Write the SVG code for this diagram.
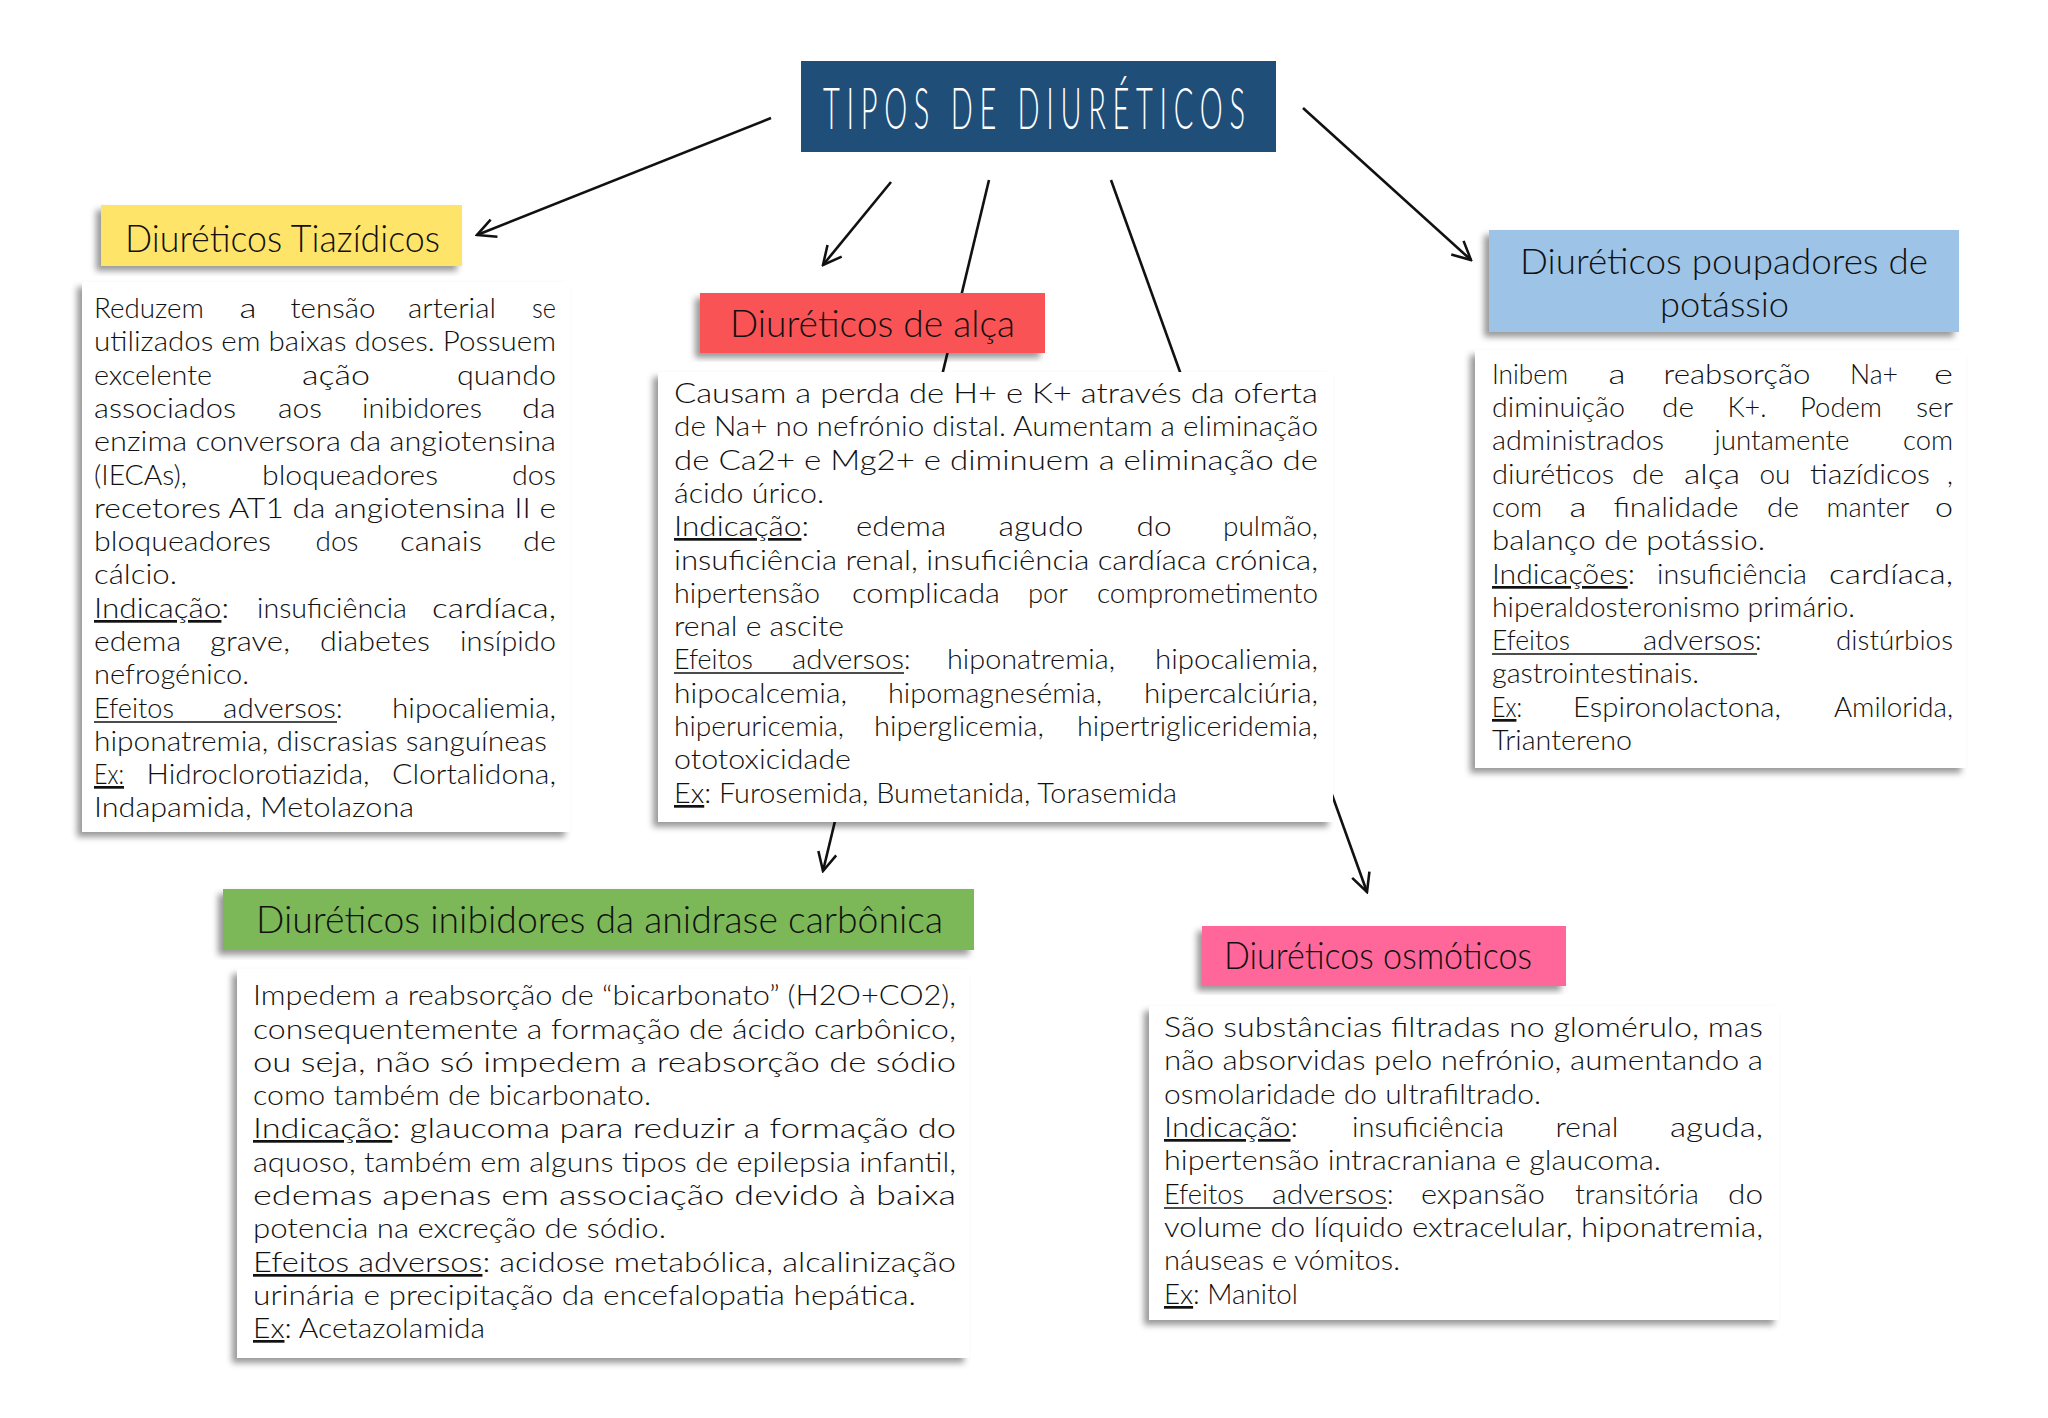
<svg xmlns="http://www.w3.org/2000/svg" width="2048" height="1418" viewBox="0 0 2048 1418">
<style>
.b{font-family:Lato,"Open Sans","DejaVu Sans",sans-serif;font-size:27px;font-weight:300;fill:#111}
.h{font-family:Lato,"Open Sans","DejaVu Sans",sans-serif;font-size:37px;font-weight:300;fill:#111}
.t{font-family:Lato,"Open Sans","DejaVu Sans",sans-serif;font-size:58px;font-weight:300;fill:#fff}
.u{text-decoration:underline}
.m{text-anchor:middle}
.e{text-anchor:end}
.box{fill:#fff;filter:url(#sh)}
.conn{stroke:#111;stroke-width:2.6;fill:none}
.ul{stroke:#111;stroke-width:1.6}
</style>
<defs>
<filter id="sh" x="-10%" y="-10%" width="120%" height="125%">
<feDropShadow dx="-5" dy="5" stdDeviation="3" flood-color="#000" flood-opacity="0.4"/>
</filter>
<marker id="ah" viewBox="0 0 12 12" refX="11" refY="6" markerWidth="22" markerHeight="22" markerUnits="userSpaceOnUse" orient="auto">
<path d="M1,1 L11,6 L1,11" fill="none" stroke="#111" stroke-width="1.4"/>
</marker>
</defs>
<rect width="2048" height="1418" fill="#fff"/>

<g id="connectors">
<line class="conn" x1="771" y1="118" x2="477" y2="235" marker-end="url(#ah)"/>
<line class="conn" x1="891" y1="182" x2="823" y2="265" marker-end="url(#ah)"/>
<line class="conn" x1="989" y1="180" x2="823" y2="871" marker-end="url(#ah)"/>
<line class="conn" x1="1111" y1="180" x2="1367" y2="892" marker-end="url(#ah)"/>
<line class="conn" x1="1303" y1="108" x2="1471" y2="260" marker-end="url(#ah)"/>
</g>

<g id="titulo">
<rect x="801" y="61" width="475" height="91" fill="#1f4e79"/>
<text class="t" transform="translate(823,129) scale(0.5,1)" x="0" y="0" textLength="844" lengthAdjust="spacing">TIPOS DE DIURÉTICOS</text>
</g>

<g id="tiazidicos">
<rect x="101" y="205" width="361" height="61" fill="#ffe46b" filter="url(#sh)"/>
<text class="h" x="125" y="252" textLength="315" lengthAdjust="spacingAndGlyphs">Diuréticos Tiazídicos</text>
<rect class="box" x="82" y="282" width="488" height="550"/>
<text class="b" y="318"><tspan x="94" textLength="110" lengthAdjust="spacingAndGlyphs">Reduzem</tspan><tspan class="m" x="248" textLength="17" lengthAdjust="spacingAndGlyphs">a</tspan><tspan class="m" x="333" textLength="85" lengthAdjust="spacingAndGlyphs">tensão</tspan><tspan class="m" x="452" textLength="88" lengthAdjust="spacingAndGlyphs">arterial</tspan><tspan class="e" x="556" textLength="24" lengthAdjust="spacingAndGlyphs">se</tspan></text>
<text class="b" x="94" y="351" textLength="462" lengthAdjust="spacingAndGlyphs">utilizados em baixas doses. Possuem</text>
<text class="b" y="385"><tspan x="94" textLength="118" lengthAdjust="spacingAndGlyphs">excelente</tspan><tspan class="m" x="336" textLength="68" lengthAdjust="spacingAndGlyphs">ação</tspan><tspan class="e" x="556" textLength="99" lengthAdjust="spacingAndGlyphs">quando</tspan></text>
<text class="b" y="418"><tspan x="94" textLength="142" lengthAdjust="spacingAndGlyphs">associados</tspan><tspan class="m" x="300" textLength="44" lengthAdjust="spacingAndGlyphs">aos</tspan><tspan class="m" x="422" textLength="120" lengthAdjust="spacingAndGlyphs">inibidores</tspan><tspan class="e" x="556" textLength="34" lengthAdjust="spacingAndGlyphs">da</tspan></text>
<text class="b" x="94" y="451" textLength="462" lengthAdjust="spacingAndGlyphs">enzima conversora da angiotensina</text>
<text class="b" y="485"><tspan x="94" textLength="93" lengthAdjust="spacingAndGlyphs">(IECAs),</tspan><tspan class="m" x="350" textLength="176" lengthAdjust="spacingAndGlyphs">bloqueadores</tspan><tspan class="e" x="556" textLength="44" lengthAdjust="spacingAndGlyphs">dos</tspan></text>
<text class="b" x="94" y="518" textLength="462" lengthAdjust="spacingAndGlyphs">recetores AT1 da angiotensina II e</text>
<text class="b" y="551"><tspan x="94" textLength="177" lengthAdjust="spacingAndGlyphs">bloqueadores</tspan><tspan class="m" x="337" textLength="43" lengthAdjust="spacingAndGlyphs">dos</tspan><tspan class="m" x="441" textLength="82" lengthAdjust="spacingAndGlyphs">canais</tspan><tspan class="e" x="556" textLength="33" lengthAdjust="spacingAndGlyphs">de</tspan></text>
<text class="b" x="94" y="584" textLength="83" lengthAdjust="spacingAndGlyphs">cálcio.</text>
<text class="b" y="618"><tspan x="94" textLength="135" lengthAdjust="spacingAndGlyphs"><tspan class="u">Indicação</tspan>:</tspan><tspan class="m" x="332" textLength="150" lengthAdjust="spacingAndGlyphs">insuficiência</tspan><tspan class="e" x="556" textLength="124" lengthAdjust="spacingAndGlyphs">cardíaca,</tspan></text>
<text class="b" y="651"><tspan x="94" textLength="87" lengthAdjust="spacingAndGlyphs">edema</tspan><tspan class="m" x="250" textLength="80" lengthAdjust="spacingAndGlyphs">grave,</tspan><tspan class="m" x="375" textLength="110" lengthAdjust="spacingAndGlyphs">diabetes</tspan><tspan class="e" x="556" textLength="96" lengthAdjust="spacingAndGlyphs">insípido</tspan></text>
<text class="b" x="94" y="684" textLength="155" lengthAdjust="spacingAndGlyphs">nefrogénico.</text>
<text class="b" y="718"><tspan x="94" textLength="80" lengthAdjust="spacingAndGlyphs">Efeitos</tspan><tspan x="223" textLength="113" lengthAdjust="spacingAndGlyphs">adversos</tspan><tspan>:</tspan><tspan class="e" x="556" textLength="164" lengthAdjust="spacingAndGlyphs">hipocaliemia,</tspan></text>
<line class="ul" x1="94" y1="722" x2="337" y2="722"/>
<text class="b" x="94" y="751" textLength="453" lengthAdjust="spacingAndGlyphs">hiponatremia, discrasias sanguíneas</text>
<text class="b" y="784"><tspan x="94" class="u" textLength="30" lengthAdjust="spacingAndGlyphs">Ex:</tspan><tspan class="m" x="258" textLength="223" lengthAdjust="spacingAndGlyphs">Hidroclorotiazida,</tspan><tspan class="e" x="556" textLength="164" lengthAdjust="spacingAndGlyphs">Clortalidona,</tspan></text>
<text class="b" x="94" y="817" textLength="320" lengthAdjust="spacingAndGlyphs">Indapamida, Metolazona</text>
</g>

<g id="alca">
<rect class="box" x="658" y="372" width="675" height="450"/>
<rect x="700" y="293" width="345" height="60" fill="#fa5254" filter="url(#sh)"/>
<text class="h" x="730" y="337" textLength="285" lengthAdjust="spacingAndGlyphs">Diuréticos de alça</text>
<text class="b" x="674" y="403" textLength="644" lengthAdjust="spacingAndGlyphs">Causam a perda de H+ e K+ através da oferta</text>
<text class="b" x="674" y="436" textLength="644" lengthAdjust="spacingAndGlyphs">de Na+ no nefrónio distal. Aumentam a eliminação</text>
<text class="b" x="674" y="470" textLength="644" lengthAdjust="spacingAndGlyphs">de Ca2+ e Mg2+ e diminuem a eliminação de</text>
<text class="b" x="674" y="503" textLength="150" lengthAdjust="spacingAndGlyphs">ácido úrico.</text>
<text class="b" y="536"><tspan x="674" textLength="135" lengthAdjust="spacingAndGlyphs"><tspan class="u">Indicação</tspan>:</tspan><tspan class="m" x="901" textLength="90" lengthAdjust="spacingAndGlyphs">edema</tspan><tspan class="m" x="1041" textLength="85" lengthAdjust="spacingAndGlyphs">agudo</tspan><tspan class="m" x="1154" textLength="35" lengthAdjust="spacingAndGlyphs">do</tspan><tspan class="e" x="1318" textLength="95" lengthAdjust="spacingAndGlyphs">pulmão,</tspan></text>
<text class="b" x="674" y="570" textLength="644" lengthAdjust="spacingAndGlyphs">insuficiência renal, insuficiência cardíaca crónica,</text>
<text class="b" y="603"><tspan x="674" textLength="146" lengthAdjust="spacingAndGlyphs">hipertensão</tspan><tspan class="m" x="926" textLength="148" lengthAdjust="spacingAndGlyphs">complicada</tspan><tspan class="m" x="1048" textLength="40" lengthAdjust="spacingAndGlyphs">por</tspan><tspan class="e" x="1318" textLength="221" lengthAdjust="spacingAndGlyphs">comprometimento</tspan></text>
<text class="b" x="674" y="636" textLength="170" lengthAdjust="spacingAndGlyphs">renal e ascite</text>
<text class="b" y="669"><tspan x="674" textLength="79" lengthAdjust="spacingAndGlyphs">Efeitos</tspan><tspan x="792" textLength="112" lengthAdjust="spacingAndGlyphs">adversos</tspan><tspan>:</tspan><tspan class="m" x="1031" textLength="168" lengthAdjust="spacingAndGlyphs">hiponatremia,</tspan><tspan class="e" x="1318" textLength="163" lengthAdjust="spacingAndGlyphs">hipocaliemia,</tspan></text>
<line class="ul" x1="674" y1="673" x2="904" y2="673"/>
<text class="b" y="703"><tspan x="674" textLength="173" lengthAdjust="spacingAndGlyphs">hipocalcemia,</tspan><tspan class="m" x="995" textLength="214" lengthAdjust="spacingAndGlyphs">hipomagnesémia,</tspan><tspan class="e" x="1318" textLength="174" lengthAdjust="spacingAndGlyphs">hipercalciúria,</tspan></text>
<text class="b" y="736"><tspan x="674" textLength="170" lengthAdjust="spacingAndGlyphs">hiperuricemia,</tspan><tspan class="m" x="959" textLength="170" lengthAdjust="spacingAndGlyphs">hiperglicemia,</tspan><tspan class="e" x="1318" textLength="241" lengthAdjust="spacingAndGlyphs">hipertrigliceridemia,</tspan></text>
<text class="b" x="674" y="769" textLength="177" lengthAdjust="spacingAndGlyphs">ototoxicidade</text>
<text class="b" x="674" y="803" textLength="503" lengthAdjust="spacingAndGlyphs"><tspan class="u">Ex</tspan>: Furosemida, Bumetanida, Torasemida</text>
</g>

<g id="poupadores">
<rect x="1489" y="230" width="470" height="102" fill="#9dc3e6" filter="url(#sh)"/>
<text class="h" x="1520" y="274" textLength="408" lengthAdjust="spacingAndGlyphs" style="font-size:35px">Diuréticos poupadores de</text>
<text class="h" x="1660" y="317" textLength="129" lengthAdjust="spacingAndGlyphs" style="font-size:35px">potássio</text>
<rect class="box" x="1475" y="350" width="491" height="418"/>
<text class="b" y="384"><tspan x="1492" textLength="76" lengthAdjust="spacingAndGlyphs">Inibem</tspan><tspan class="m" x="1617" textLength="17" lengthAdjust="spacingAndGlyphs">a</tspan><tspan class="m" x="1737" textLength="147" lengthAdjust="spacingAndGlyphs">reabsorção</tspan><tspan class="m" x="1874" textLength="48" lengthAdjust="spacingAndGlyphs">Na+</tspan><tspan class="e" x="1953" textLength="19" lengthAdjust="spacingAndGlyphs">e</tspan></text>
<text class="b" y="417"><tspan x="1492" textLength="133" lengthAdjust="spacingAndGlyphs">diminuição</tspan><tspan class="m" x="1678" textLength="32" lengthAdjust="spacingAndGlyphs">de</tspan><tspan class="m" x="1747" textLength="39" lengthAdjust="spacingAndGlyphs">K+.</tspan><tspan class="m" x="1841" textLength="82" lengthAdjust="spacingAndGlyphs">Podem</tspan><tspan class="e" x="1953" textLength="37" lengthAdjust="spacingAndGlyphs">ser</tspan></text>
<text class="b" y="450"><tspan x="1492" textLength="172" lengthAdjust="spacingAndGlyphs">administrados</tspan><tspan class="m" x="1782" textLength="135" lengthAdjust="spacingAndGlyphs">juntamente</tspan><tspan class="e" x="1953" textLength="50" lengthAdjust="spacingAndGlyphs">com</tspan></text>
<text class="b" y="484"><tspan x="1492" textLength="122" lengthAdjust="spacingAndGlyphs">diuréticos</tspan><tspan class="m" x="1648" textLength="32" lengthAdjust="spacingAndGlyphs">de</tspan><tspan class="m" x="1712" textLength="56" lengthAdjust="spacingAndGlyphs">alça</tspan><tspan class="m" x="1775" textLength="31" lengthAdjust="spacingAndGlyphs">ou</tspan><tspan class="m" x="1870" textLength="120" lengthAdjust="spacingAndGlyphs">tiazídicos</tspan><tspan class="e" x="1953">,</tspan></text>
<text class="b" y="517"><tspan x="1492" textLength="50" lengthAdjust="spacingAndGlyphs">com</tspan><tspan class="m" x="1578" textLength="17" lengthAdjust="spacingAndGlyphs">a</tspan><tspan class="m" x="1676" textLength="125" lengthAdjust="spacingAndGlyphs">finalidade</tspan><tspan class="m" x="1783" textLength="32" lengthAdjust="spacingAndGlyphs">de</tspan><tspan class="m" x="1868" textLength="83" lengthAdjust="spacingAndGlyphs">manter</tspan><tspan class="e" x="1953" textLength="18" lengthAdjust="spacingAndGlyphs">o</tspan></text>
<text class="b" x="1492" y="550" textLength="273" lengthAdjust="spacingAndGlyphs">balanço de potássio.</text>
<text class="b" y="584"><tspan x="1492" textLength="143" lengthAdjust="spacingAndGlyphs"><tspan class="u">Indicações</tspan>:</tspan><tspan class="m" x="1732" textLength="150" lengthAdjust="spacingAndGlyphs">insuficiência</tspan><tspan class="e" x="1953" textLength="124" lengthAdjust="spacingAndGlyphs">cardíaca,</tspan></text>
<text class="b" x="1492" y="617" textLength="363" lengthAdjust="spacingAndGlyphs">hiperaldosteronismo primário.</text>
<text class="b" y="650"><tspan x="1492" textLength="78" lengthAdjust="spacingAndGlyphs">Efeitos</tspan><tspan x="1643" textLength="112" lengthAdjust="spacingAndGlyphs">adversos</tspan><tspan>:</tspan><tspan class="e" x="1953" textLength="117" lengthAdjust="spacingAndGlyphs">distúrbios</tspan></text>
<line class="ul" x1="1492" y1="654" x2="1757" y2="654"/>
<text class="b" x="1492" y="683" textLength="207" lengthAdjust="spacingAndGlyphs">gastrointestinais.</text>
<text class="b" y="717"><tspan x="1492" textLength="30" lengthAdjust="spacingAndGlyphs"><tspan class="u">Ex</tspan>:</tspan><tspan class="m" x="1677" textLength="208" lengthAdjust="spacingAndGlyphs">Espironolactona,</tspan><tspan class="e" x="1953" textLength="119" lengthAdjust="spacingAndGlyphs">Amilorida,</tspan></text>
<text class="b" x="1492" y="750" textLength="140" lengthAdjust="spacingAndGlyphs">Triantereno</text>
</g>

<g id="anidrase">
<rect x="223" y="889" width="751" height="61" fill="#7cb858" filter="url(#sh)"/>
<text class="h" x="256" y="933" textLength="687" lengthAdjust="spacingAndGlyphs">Diuréticos inibidores da anidrase carbônica</text>
<rect class="box" x="237" y="969" width="732" height="389"/>
<text class="b" x="253" y="1005" textLength="703" lengthAdjust="spacingAndGlyphs">Impedem a reabsorção de “bicarbonato” (H2O+CO2),</text>
<text class="b" x="253" y="1039" textLength="703" lengthAdjust="spacingAndGlyphs">consequentemente a formação de ácido carbônico,</text>
<text class="b" x="253" y="1072" textLength="703" lengthAdjust="spacingAndGlyphs">ou seja, não só impedem a reabsorção de sódio</text>
<text class="b" x="253" y="1105" textLength="398" lengthAdjust="spacingAndGlyphs">como também de bicarbonato.</text>
<text class="b" x="253" y="1138" textLength="703" lengthAdjust="spacingAndGlyphs"><tspan class="u">Indicação</tspan>: glaucoma para reduzir a formação do</text>
<text class="b" x="253" y="1172" textLength="703" lengthAdjust="spacingAndGlyphs">aquoso, também em alguns tipos de epilepsia infantil,</text>
<text class="b" x="253" y="1205" textLength="703" lengthAdjust="spacingAndGlyphs">edemas apenas em associação devido à baixa</text>
<text class="b" x="253" y="1238" textLength="413" lengthAdjust="spacingAndGlyphs">potencia na excreção de sódio.</text>
<text class="b" x="253" y="1272" textLength="703" lengthAdjust="spacingAndGlyphs"><tspan class="u">Efeitos adversos</tspan>: acidose metabólica, alcalinização</text>
<text class="b" x="253" y="1305" textLength="663" lengthAdjust="spacingAndGlyphs">urinária e precipitação da encefalopatia hepática.</text>
<text class="b" x="253" y="1338" textLength="232" lengthAdjust="spacingAndGlyphs"><tspan class="u">Ex</tspan>: Acetazolamida</text>
</g>

<g id="osmoticos">
<rect x="1202" y="926" width="364" height="60" fill="#ff6699" filter="url(#sh)"/>
<text class="h" x="1224" y="969" textLength="308" lengthAdjust="spacingAndGlyphs">Diuréticos osmóticos</text>
<rect class="box" x="1149" y="1006" width="630" height="314"/>
<text class="b" x="1164" y="1037" textLength="599" lengthAdjust="spacingAndGlyphs">São substâncias filtradas no glomérulo, mas</text>
<text class="b" x="1164" y="1070" textLength="599" lengthAdjust="spacingAndGlyphs">não absorvidas pelo nefrónio, aumentando a</text>
<text class="b" x="1164" y="1104" textLength="377" lengthAdjust="spacingAndGlyphs">osmolaridade do ultrafiltrado.</text>
<text class="b" y="1137"><tspan x="1164" textLength="134" lengthAdjust="spacingAndGlyphs"><tspan class="u">Indicação</tspan>:</tspan><tspan class="m" x="1428" textLength="152" lengthAdjust="spacingAndGlyphs">insuficiência</tspan><tspan class="m" x="1587" textLength="63" lengthAdjust="spacingAndGlyphs">renal</tspan><tspan class="e" x="1763" textLength="93" lengthAdjust="spacingAndGlyphs">aguda,</tspan></text>
<text class="b" x="1164" y="1170" textLength="497" lengthAdjust="spacingAndGlyphs">hipertensão intracraniana e glaucoma.</text>
<text class="b" y="1204"><tspan x="1164" textLength="80" lengthAdjust="spacingAndGlyphs">Efeitos</tspan><tspan x="1272" textLength="115" lengthAdjust="spacingAndGlyphs">adversos</tspan><tspan>:</tspan><tspan class="m" x="1483" textLength="124" lengthAdjust="spacingAndGlyphs">expansão</tspan><tspan class="m" x="1637" textLength="124" lengthAdjust="spacingAndGlyphs">transitória</tspan><tspan class="e" x="1763" textLength="35" lengthAdjust="spacingAndGlyphs">do</tspan></text>
<line class="ul" x1="1164" y1="1208" x2="1387" y2="1208"/>
<text class="b" x="1164" y="1237" textLength="599" lengthAdjust="spacingAndGlyphs">volume do líquido extracelular, hiponatremia,</text>
<text class="b" x="1164" y="1270" textLength="236" lengthAdjust="spacingAndGlyphs">náuseas e vómitos.</text>
<text class="b" x="1164" y="1304" textLength="134" lengthAdjust="spacingAndGlyphs"><tspan class="u">Ex</tspan>: Manitol</text>
</g>
</svg>
